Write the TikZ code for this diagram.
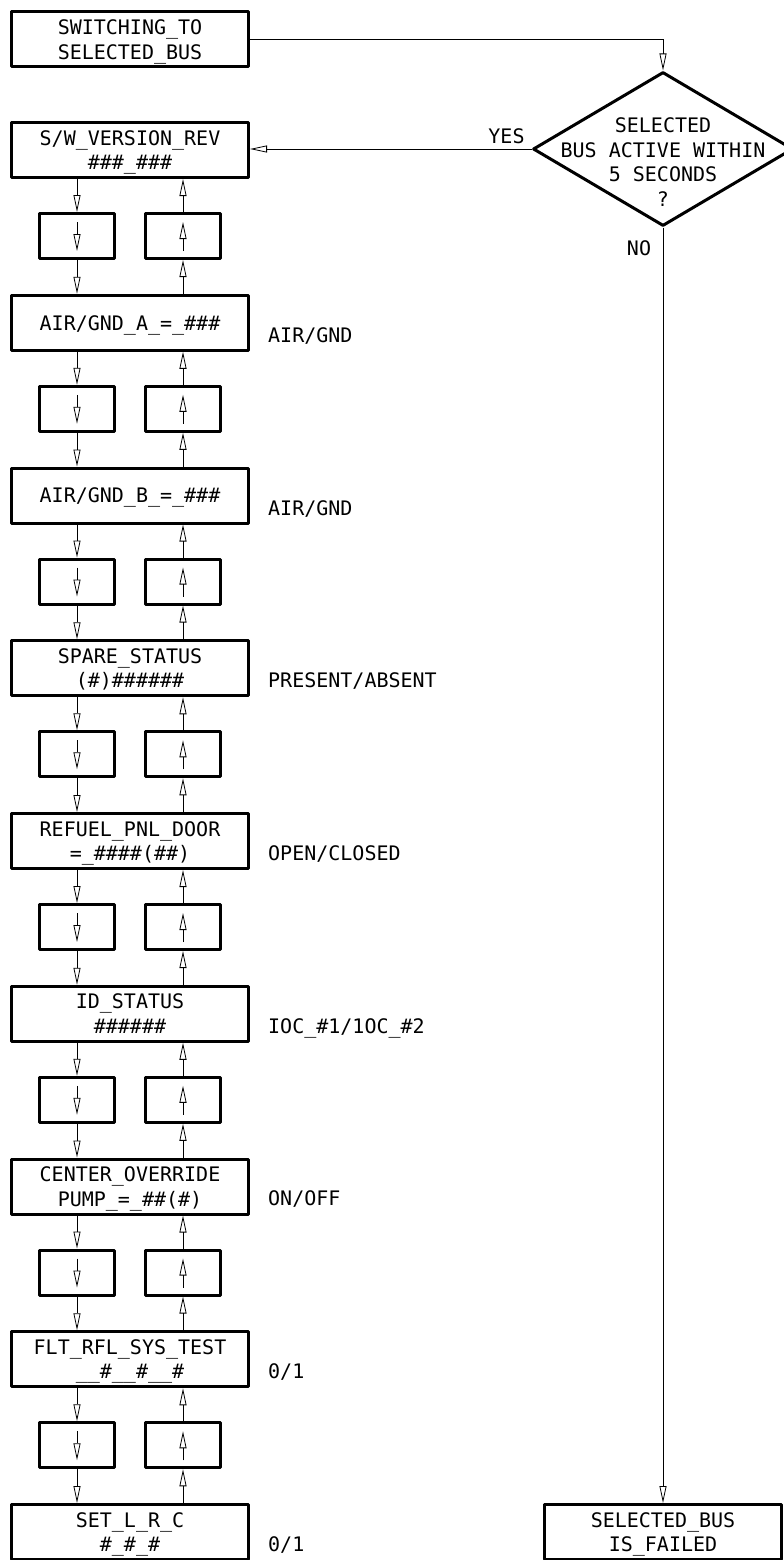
\documentclass[tikz,border=0pt]{standalone}
\usepackage{fontspec}
\setmonofont{DejaVu Sans Mono}
\usetikzlibrary{arrows.meta,shapes.geometric}

% one text line of fixed height/depth, so that lines sit evenly in a box
\newcommand\rowline[1]{\raisebox{0pt}[19.55pt][4.95pt]{#1}}

\begin{document}
\begin{tikzpicture}[x=1pt,y=-1pt,
  every node/.style={font=\ttfamily\fontsize{20}{24.5}\selectfont},
  mainbox/.style={draw,line width=3pt,line join=round,minimum width=237pt,
    minimum height=55pt,inner sep=0pt,align=center},
  smallbox/.style={draw,line width=3pt,line join=round,minimum width=75pt,
    minimum height=45pt,inner sep=0pt},
  decision/.style={draw,diamond,line width=3pt,line join=round,
    minimum width=260pt,minimum height=154pt,inner sep=0pt},
  flow/.style={line width=1pt,
    -{Triangle[open,length=17pt,width=7pt,line width=0.8pt]}},
  sidelabel/.style={anchor=base west,inner sep=0pt},
  plainlabel/.style={inner sep=0pt},
]
\useasboundingbox (0,0) rectangle (784,1560);

% start box and the bus check
\node[mainbox] (start) at (130,39.5)
  {\rowline{SWITCHING\_TO}\\\rowline{SELECTED\_BUS}};
\node[decision] (dec) at (663,149) {};
\node[align=center,inner sep=0pt] (dectext) at (663,162)
  {\rowline{SELECTED}\\\rowline{BUS ACTIVE WITHIN}\\\rowline{5 SECONDS}\\\rowline{?}};
\node[mainbox] (fail) at (663,1532)
  {\rowline{SELECTED\_BUS}\\\rowline{IS\_FAILED}};

% menu pages
\node[mainbox] (m0) at (130,150)
  {\rowline{S/W\_VERSION\_REV}\\\rowline{\#\#\#\_\#\#\#}};
\node[mainbox] (m1) at (130,322.75) {\rowline{AIR/GND\_A\_=\_\#\#\#}};
\node[mainbox] (m2) at (130,495.5) {\rowline{AIR/GND\_B\_=\_\#\#\#}};
\node[mainbox] (m3) at (130,668.25)
  {\rowline{SPARE\_STATUS}\\\rowline{(\#)\#\#\#\#\#\#}};
\node[mainbox] (m4) at (130,841)
  {\rowline{REFUEL\_PNL\_DOOR}\\\rowline{=\_\#\#\#\#(\#\#)}};
\node[mainbox] (m5) at (130,1013.75)
  {\rowline{ID\_STATUS}\\\rowline{\#\#\#\#\#\#}};
\node[mainbox] (m6) at (130,1186.5)
  {\rowline{CENTER\_OVERRIDE}\\\rowline{PUMP\_=\_\#\#(\#)}};
\node[mainbox] (m7) at (130,1359.25)
  {\rowline{FLT\_RFL\_SYS\_TEST}\\\rowline{\_\_\#\_\_\#\_\_\#}};
\node[mainbox] (m8) at (130,1532)
  {\rowline{SET\_L\_R\_C}\\\rowline{\#\_\#\_\#}};

% value ranges beside the pages
\node[sidelabel] (v1) at (268,342) {AIR/GND};
\node[sidelabel] (v2) at (268,515) {AIR/GND};
\node[sidelabel] (v3) at (268,687.5) {PRESENT/ABSENT};
\node[sidelabel] (v4) at (268,860.3) {OPEN/CLOSED};
\node[sidelabel] (v5) at (268,1033) {IOC\_\#1/1OC\_\#2};
\node[sidelabel] (v6) at (268,1205.8) {ON/OFF};
\node[sidelabel] (v7) at (268,1378.5) {0/1};
\node[sidelabel] (v8) at (268,1551.3) {0/1};

% scroll keys between pages
\foreach \i in {0,...,7} {
  \pgfmathtruncatemacro\j{\i+1}
  \node[smallbox] (sl\i) at (77,236+172.75*\i) {};
  \node[smallbox] (sr\i) at (183,236+172.75*\i) {};
  % scroll down
  \draw[flow] (m\i.south -| sl\i) -- (sl\i.north);
  \draw[flow] ([yshift=-10pt]sl\i.north) -- ([yshift=9pt]sl\i.south);
  \draw[flow] (sl\i.south) -- (sl\i.south |- m\j.north);
  % scroll up
  \draw[flow] (m\j.north -| sr\i) -- (sr\i.south);
  \draw[flow] ([yshift=9pt]sr\i.south) -- ([yshift=-10pt]sr\i.north);
  \draw[flow] (sr\i.north) -- (sr\i.north |- m\i.south);
}

% decision connectors
\draw[flow] (start.east) -| (dec.north);
\draw[flow] (dec.west) -- (dec.west -| m0.east);
\draw[flow] (dec.south) -- (fail.north);
\node[plainlabel] (yes) at (506.5,136) {YES};
\node[plainlabel] (no) at (639,248) {NO};
\end{tikzpicture}
\end{document}
